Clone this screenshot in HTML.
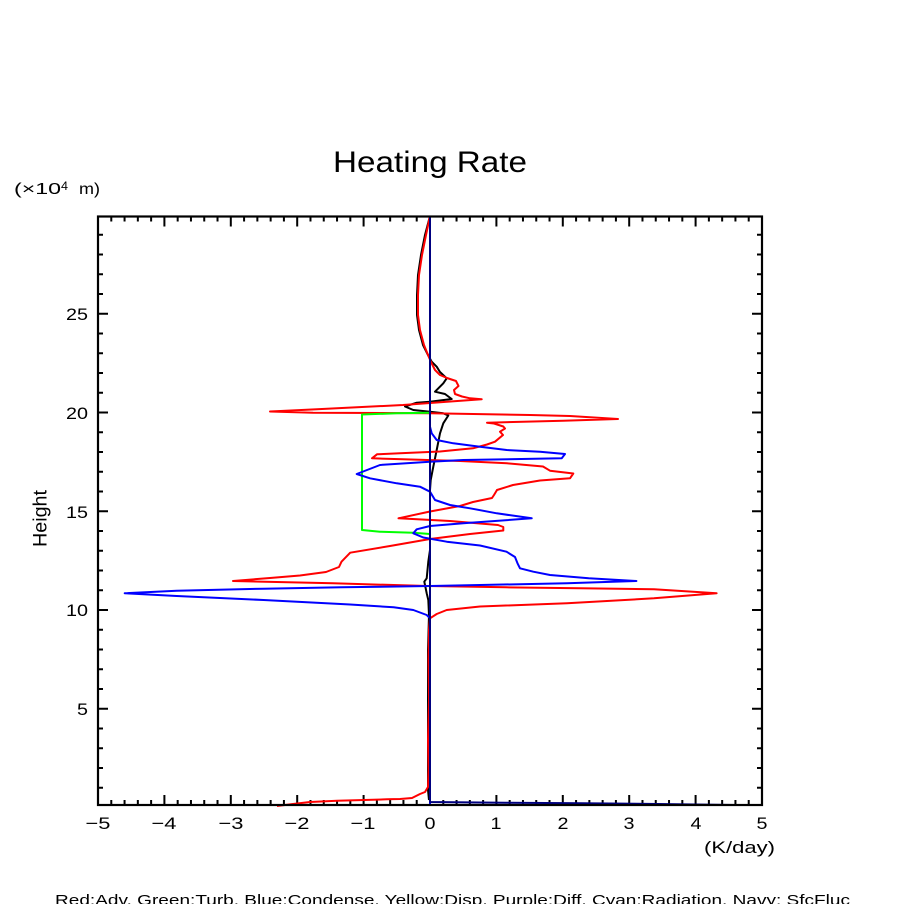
<!DOCTYPE html>
<html><head><meta charset="utf-8"><style>
html,body{margin:0;padding:0;background:#fff;}
svg{display:block;}
text{font-family:"Liberation Sans",sans-serif;fill:#000;}
</style></head><body>
<svg width="904" height="904" viewBox="0 0 904 904" xmlns="http://www.w3.org/2000/svg">
<rect width="904" height="904" fill="#fff"/>
<text x="333" y="172" font-size="30" textLength="194" lengthAdjust="spacingAndGlyphs">Heating Rate</text>
<text x="14" y="194" font-size="16" textLength="47" lengthAdjust="spacingAndGlyphs">(×10</text>
<text x="61" y="190" font-size="12" textLength="7" lengthAdjust="spacingAndGlyphs">4</text>
<text x="79" y="194" font-size="16" textLength="21" lengthAdjust="spacingAndGlyphs">m)</text>
<text transform="translate(46.7,547) rotate(-90)" font-size="19" textLength="57" lengthAdjust="spacingAndGlyphs">Height</text>
<text x="704" y="853" font-size="17" textLength="71" lengthAdjust="spacingAndGlyphs">(K/day)</text>
<text x="55" y="905" font-size="15" textLength="795" lengthAdjust="spacingAndGlyphs">Red:Adv. Green:Turb. Blue:Condense. Yellow:Disp. Purple:Diff. Cyan:Radiation. Navy: SfcFluc</text>

<!-- y labels -->
<g font-size="17" text-anchor="end">
<text x="88" y="320" textLength="22" lengthAdjust="spacingAndGlyphs">25</text>
<text x="88" y="419" textLength="22" lengthAdjust="spacingAndGlyphs">20</text>
<text x="88" y="518" textLength="22" lengthAdjust="spacingAndGlyphs">15</text>
<text x="88" y="616" textLength="22" lengthAdjust="spacingAndGlyphs">10</text>
<text x="88" y="715" textLength="11" lengthAdjust="spacingAndGlyphs">5</text>
</g>
<!-- x labels -->
<g font-size="17" text-anchor="middle">
<text x="98" y="829" textLength="25" lengthAdjust="spacingAndGlyphs">−5</text>
<text x="164" y="829" textLength="25" lengthAdjust="spacingAndGlyphs">−4</text>
<text x="231" y="829" textLength="25" lengthAdjust="spacingAndGlyphs">−3</text>
<text x="297" y="829" textLength="25" lengthAdjust="spacingAndGlyphs">−2</text>
<text x="363" y="829" textLength="25" lengthAdjust="spacingAndGlyphs">−1</text>
<text x="430" y="829" textLength="11" lengthAdjust="spacingAndGlyphs">0</text>
<text x="496" y="829" textLength="11" lengthAdjust="spacingAndGlyphs">1</text>
<text x="563" y="829" textLength="11" lengthAdjust="spacingAndGlyphs">2</text>
<text x="629" y="829" textLength="11" lengthAdjust="spacingAndGlyphs">3</text>
<text x="696" y="829" textLength="11" lengthAdjust="spacingAndGlyphs">4</text>
<text x="762" y="829" textLength="11" lengthAdjust="spacingAndGlyphs">5</text>
</g>

<!-- ticks -->
<g id="ticks" stroke="#000" stroke-width="2" fill="none">
<path id="xt" d=""/>
</g>
<script>
(function(){
var s="";
for(var i=0;i<=50;i++){
  var x=98+i*13.28; var L=(i%5==0)?10:5;
  s+="M"+x.toFixed(2)+",805v-"+L+"M"+x.toFixed(2)+",216.5v"+L;
}
for(var v=1;v<=29;v++){
  var y=807.5-19.75*v; var L=(v%5==0)?10:5;
  s+="M98,"+y.toFixed(2)+"h"+L+"M762,"+y.toFixed(2)+"h-"+L;
}
document.getElementById("xt").setAttribute("d",s);
})();
</script>

<g fill="none" stroke-width="2" stroke-linejoin="round">
<polyline stroke="#000" points="430,216 425,235 421,255 418,275 417,295 417,315 419,330 423,345 428,355 431.7,361.7 436.7,366.7 440,372 446.7,378.3 443.3,383.3 435,391.7 445,394 451.7,399 430,401.7 416.7,402.7 405,406.5 413.3,410 430,411.7 443.3,413.3 448.3,415.5 443.3,423.3 440,433.3 436.7,450 433.3,466.7 430.7,480 430,490 430,550 428.3,561.7 426.7,578.3 424.3,581.7 425,585 426.7,593.3 428.3,600 429,615 428,650 428,700 428,790 429,800"/>
<polyline stroke="#ff0000" points="430,216 426,235 422,255 419,275 418,295 418,315 420,330 424,345 428,355 431,362 435,370 440,375 447,378 456,381 458.5,386 454,390 455,394 462,396.5 470,398.3 481.7,399.3 447,401.7 403,405 317,409.3 270,411.5 313,412.7 430,413.3 530,415 570,416 618,419 563,420.7 487,422.7 494,423.5 503.3,426.5 505,428.5 500,431.7 503,435 495,441.7 487,444.5 473,448.3 440,451.5 400,453.3 377,454.3 372,458.3 403,459.3 460,461 507,463.3 543,466.5 550,470.7 573.3,473.5 570,478.3 540,480.5 513,485 497,490 494,495 492,498 473,502 460,506 430,511.5 398.5,518.3 450,521 498,525 503.3,527 503.3,530.5 470,534 430,539 390,546 350.2,552.7 341.5,561.7 339,567 326,572 300,575.5 270,578 233,581 333,583.3 428,586 506,587.3 580,588.3 654,589.3 716.6,593.3 654,598.3 567,603.3 480,606.5 446.7,610 436.7,614 430,618.3 429,630 428.5,660 429,700 428,740 428.5,770 428,787 425,792 420,794 412,798 400,799 387,799.3 337,800.7 310,802 293,804 277,806"/>
<polyline stroke="#00ff00" points="430,412.7 396.7,413.3 362,414.5 362,530 380,531.7 413.3,532.7 430,534"/>
<polyline stroke="#0000ff" points="430,216 430,426.7 431.7,433.3 436.7,440 453.3,443.3 480,446.7 506.7,450 540,451.7 565,454 561.7,458.3 463.3,460 430,461.7 380,465 356.7,474 370,478.3 396.7,483.3 420,486.7 430,491.7 435,500 450,505 470,508.3 496.7,513.3 531.7,518.3 463.3,523.3 430,526 416.7,529.3 413.3,533.3 423.3,537.5 446.7,541.7 480,545.5 506.5,551.7 515,557 517.5,563.3 520,568.3 533.3,571.7 550,575 588.7,578.3 636.4,581 567,583.3 480,585 430.4,586 341.5,587.3 263.5,588.7 176.7,590.7 124.7,593.3 176.7,596 263.5,600 350.2,604.5 393.6,607.3 413.3,610 426.7,615 430,618.3 430,805"/>
<polyline stroke="#000080" points="430,216 430,802 505,802.7 583,803.3 658,804 735,805"/>
</g>

<rect x="98" y="216.5" width="664" height="588.5" fill="none" stroke="#000" stroke-width="2.2"/>
</svg>
</body></html>
